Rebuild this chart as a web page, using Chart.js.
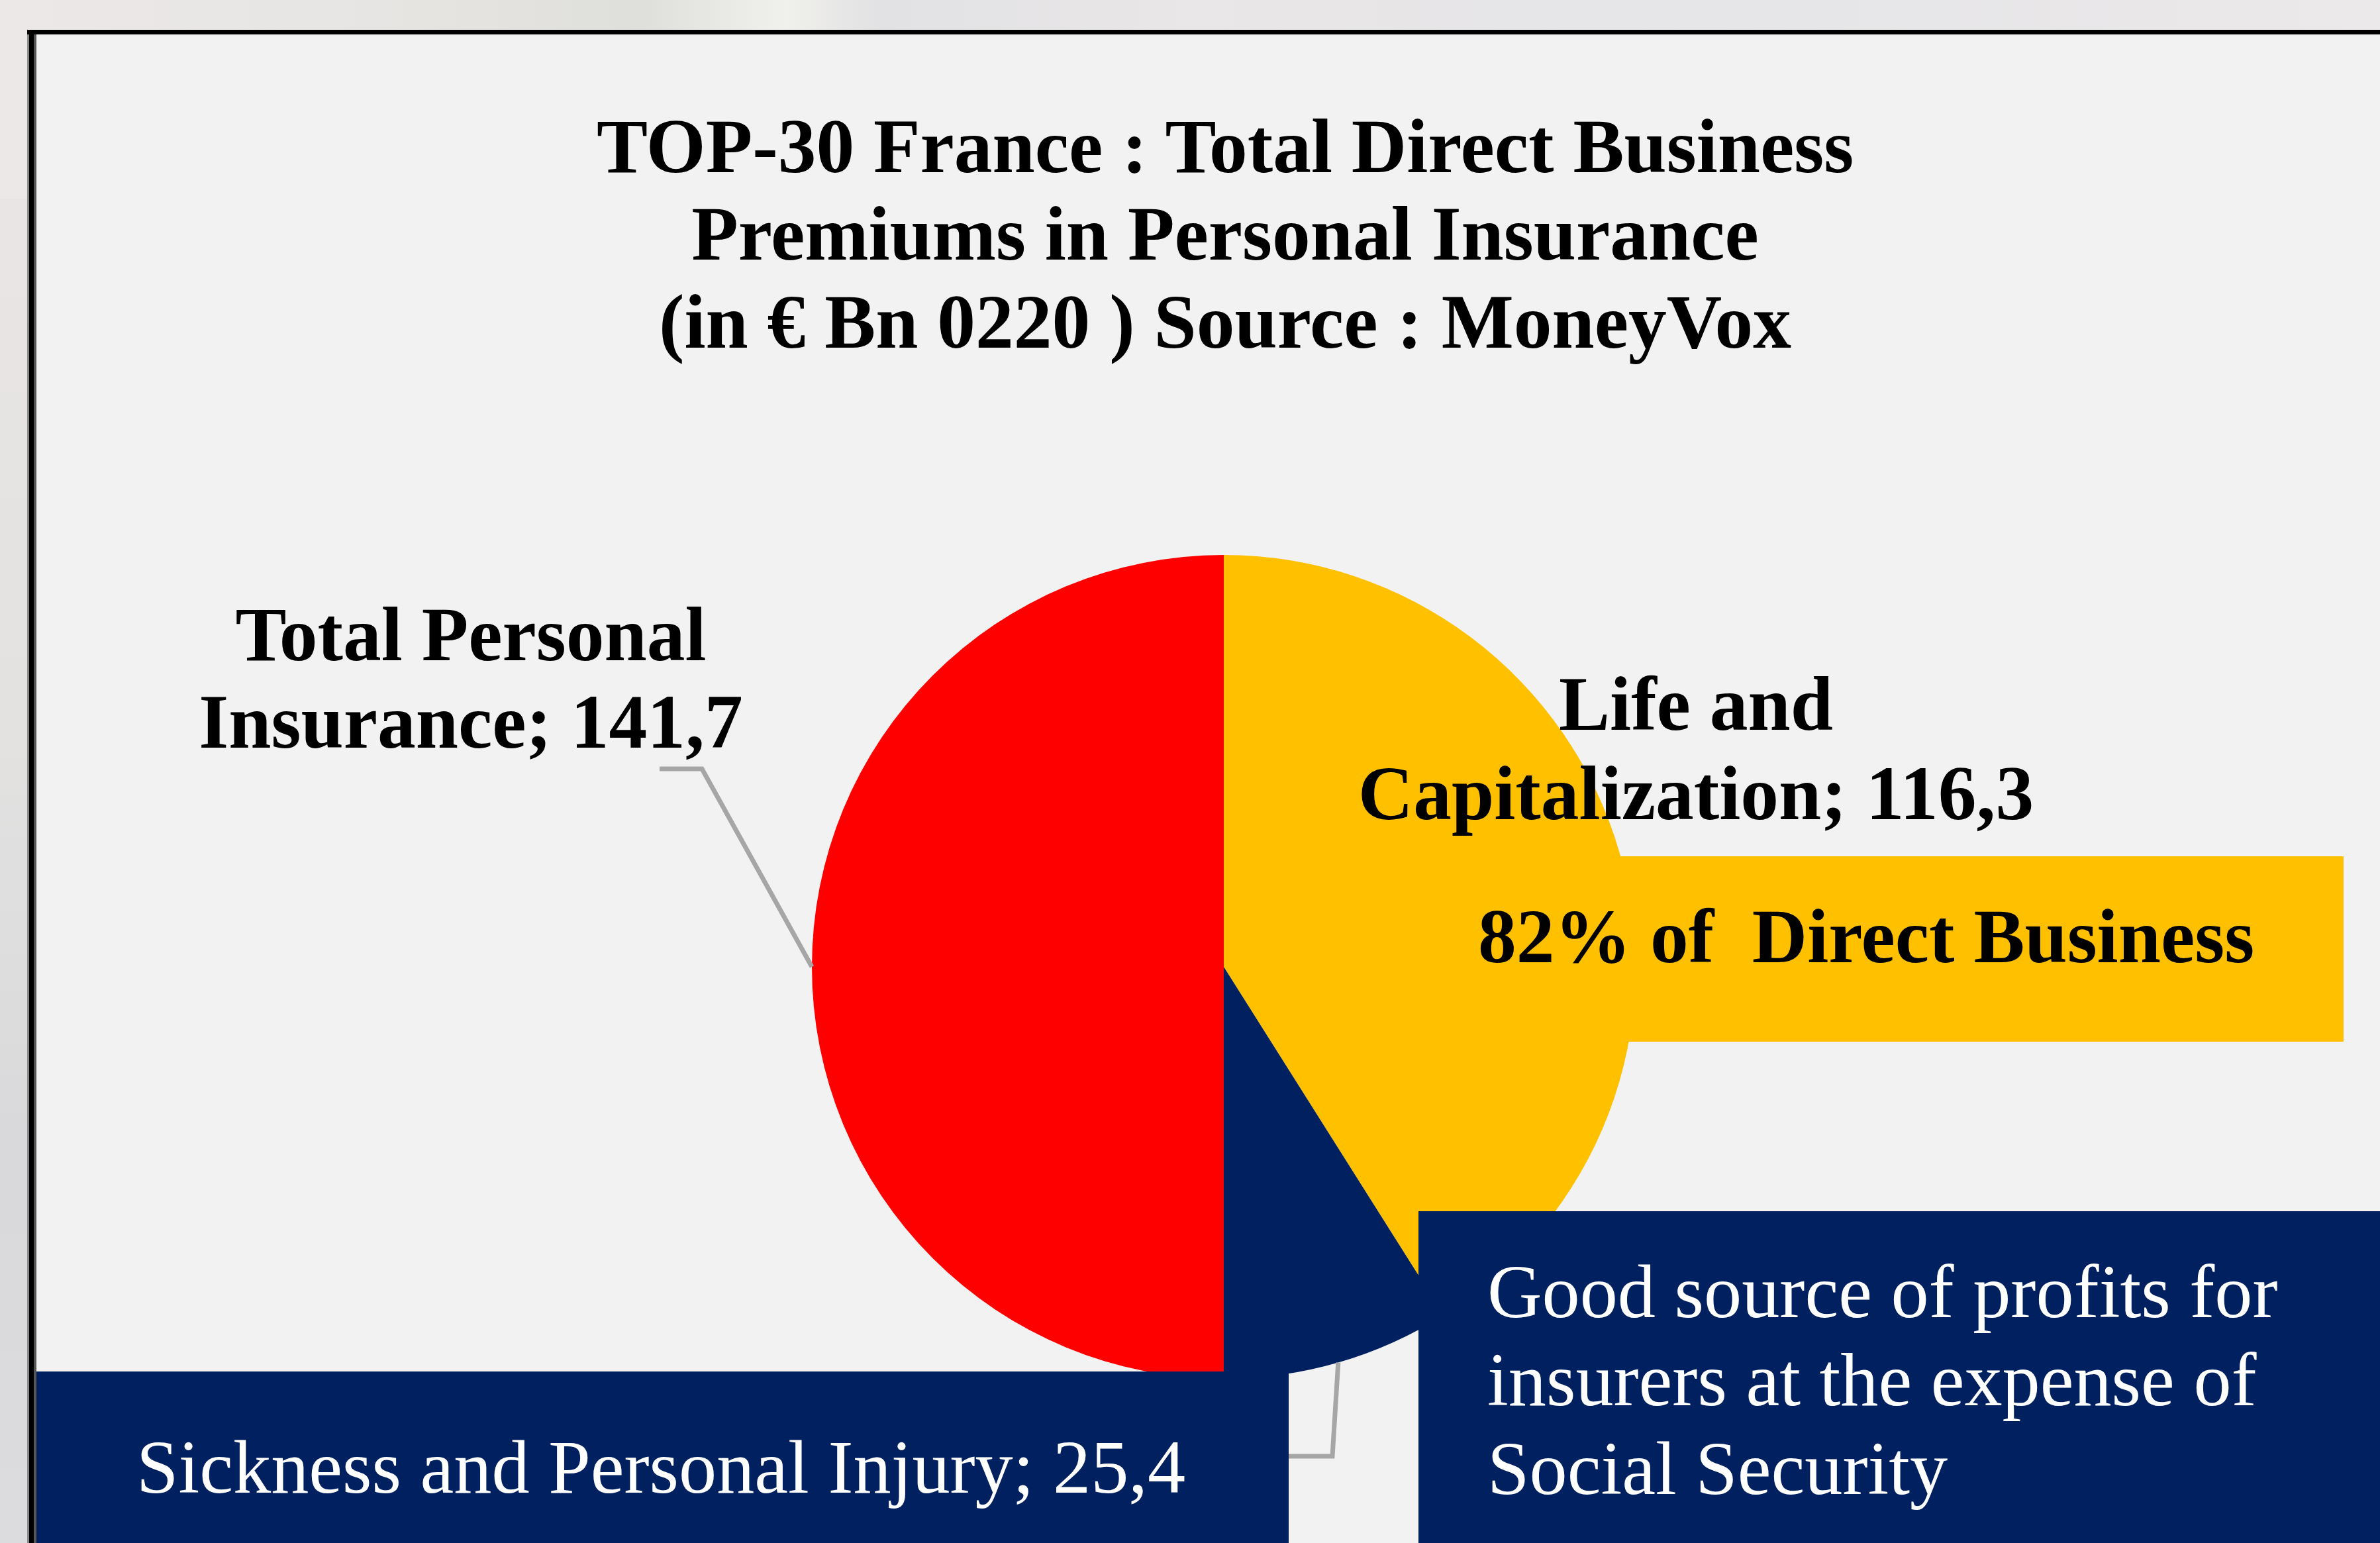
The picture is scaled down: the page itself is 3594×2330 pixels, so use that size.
<!DOCTYPE html>
<html>
<head>
<meta charset="utf-8">
<script src="https://cdn.jsdelivr.net/npm/chart.js@4.4.1/dist/chart.umd.min.js"></script>
<style>
  html, body { margin:0; padding:0; }
  body {
    width:3594px; height:2330px; overflow:hidden; position:relative;
    background: linear-gradient(90deg, #ebe8e7 0%, #e9e7e6 10%, #e4e3e0 20%, #dfdfdb 27%, #f0f0ec 33%, #e2e1e3 37%, #e9e7e8 50%, #e6e5e7 70%, #ebe9ea 100%);
    font-family: "Liberation Serif", "Times New Roman", serif;
  }
  .abs { position:absolute; }
  .t { position:absolute; white-space:pre; }
  .b { font-weight:bold; color:#000; }
  .w { color:#fff; font-weight:normal; }
</style>
</head>
<body>
<div class="abs" style="left:0;top:300px;width:41px;height:2030px;background:linear-gradient(180deg,#e8e5e4 0%,#e3e2e1 40%,#d9d9db 70%,#dcdcde 100%);"></div>
<div class="abs" style="left:41px;top:45px;right:0;bottom:0;background:#000;"></div>
<div class="abs" style="left:41px;top:52px;width:3px;bottom:0;background:#8a8a8a;"></div>
<div class="abs" style="left:51px;top:52px;width:4px;bottom:0;background:#555;"></div>
<div class="abs" style="left:55px;top:52px;right:0;bottom:0;background:#f2f2f2;"></div>
<canvas id="c" width="3594" height="2330" class="abs" style="left:0;top:0;"></canvas>
<div id="overlay"></div>
<script>
// ---------- data ----------
const categories = ["Life and Capitalization", "Sickness and Personal Injury", "Total Personal Insurance"];
const values = [116.3, 25.4, 141.7];
const sliceColors = ["#FFC000", "#002060", "#FF0000"];
const titleLines = ["TOP-30 France : Total Direct Business", "Premiums in Personal Insurance", "(in \u20AC Bn 0220 ) Source : MoneyVox"];
const calloutYellow = "82% of  Direct Business";
const calloutNavyLines = ["Good source of profits for", "insurers at the expense of", "Social Security"];

// ---------- helpers ----------
const fmt = v => v.toFixed(1).replace('.', ',');
const labelText = i => categories[i] + "; " + fmt(values[i]);

// ---------- layout ----------
const W = 3594, H = 2330;
const CX = 1848, CY = 1460, R = 622;

// Leader lines: elbow points (label side) for slice index
const leaders = [
  { index: 2, pts: [[1060, 1161], [996, 1161]] },
  { index: 1, pts: [[2012, 2199], [1946, 2199]] }
];

const leaderPlugin = {
  id: 'leaders',
  afterDatasetsDraw(chart) {
    const meta = chart.getDatasetMeta(0);
    const ctx = chart.ctx;
    ctx.save();
    ctx.strokeStyle = '#A6A6A6';
    ctx.lineWidth = 7;
    ctx.lineJoin = 'miter';
    leaders.forEach(l => {
      const a = meta.data[l.index];
      const p = a.getProps(['x', 'y', 'startAngle', 'endAngle', 'outerRadius'], true);
      const mid = (p.startAngle + p.endAngle) / 2;
      const ex = p.x + Math.cos(mid) * p.outerRadius;
      const ey = p.y + Math.sin(mid) * p.outerRadius;
      ctx.beginPath();
      ctx.moveTo(ex, ey);
      l.pts.forEach(q => ctx.lineTo(q[0], q[1]));
      ctx.stroke();
    });
    ctx.restore();
  }
};

new Chart(document.getElementById('c'), {
  type: 'pie',
  data: {
    labels: categories,
    datasets: [{
      data: values,
      backgroundColor: sliceColors,
      borderWidth: 0,
      offset: 0,
      hoverOffset: 0
    }]
  },
  options: {
    responsive: false,
    animation: false,
    events: [],
    layout: { padding: { left: CX - R, right: W - (CX + R), top: CY - R, bottom: H - (CY + R) } },
    plugins: { legend: { display: false }, tooltip: { enabled: false }, title: { display: false } }
  },
  plugins: [leaderPlugin]
});

// ---------- overlay boxes & text ----------
const ov = document.getElementById('overlay');
function box(l, t, w, h, bg) {
  const d = document.createElement('div');
  d.className = 'abs';
  Object.assign(d.style, { left: l + 'px', top: t + 'px', width: w + 'px', height: h + 'px', background: bg });
  ov.appendChild(d);
  return d;
}
function text(lines, x, baseline, lh, cls, fs, align, width) {
  const d = document.createElement('div');
  d.className = 't ' + cls;
  const off = (lh - 1.107 * fs) / 2 + 0.891 * fs;
  d.style.fontSize = fs + 'px';
  d.style.lineHeight = lh + 'px';
  d.style.top = (baseline - off) + 'px';
  if (align === 'center') {
    d.style.left = (x - width / 2) + 'px';
    d.style.width = width + 'px';
    d.style.textAlign = 'center';
  } else {
    d.style.left = x + 'px';
  }
  lines.forEach((ln, i) => {
    if (i) d.appendChild(document.createElement('br'));
    d.appendChild(document.createTextNode(ln));
  });
  ov.appendChild(d);
}

// boxes (drawn over the pie)
box(2200, 1293, 1339, 280, '#FFC000');
box(55, 2071, 1891, 259, '#002060');
box(2142, 1829, W - 2142, H - 1829, '#002060');

const FB = 115.5, FR = 114.3;
// title
text(titleLines, 1850, 260, 132.5, 'b', FB, 'center', 2600);
// slice labels
const totLbl = labelText(2).split(' ');
text([totLbl.slice(0, 2).join(' '), totLbl.slice(2).join(' ')], 711, 997, 132, 'b', FB, 'center', 1000);
const lifeLbl = labelText(0).split(' ');
text([lifeLbl.slice(0, 2).join(' '), lifeLbl.slice(2).join(' ')], 2561, 1102, 135, 'b', FB, 'center', 1200);
text([labelText(1)], 206, 2255, 132, 'w', FR, 'left');
// callouts
text([calloutYellow], 2232, 1453, 132, 'b', FB, 'left');
text(calloutNavyLines, 2246, 1989, 133.5, 'w', FR, 'left');
</script>
</body>
</html>
